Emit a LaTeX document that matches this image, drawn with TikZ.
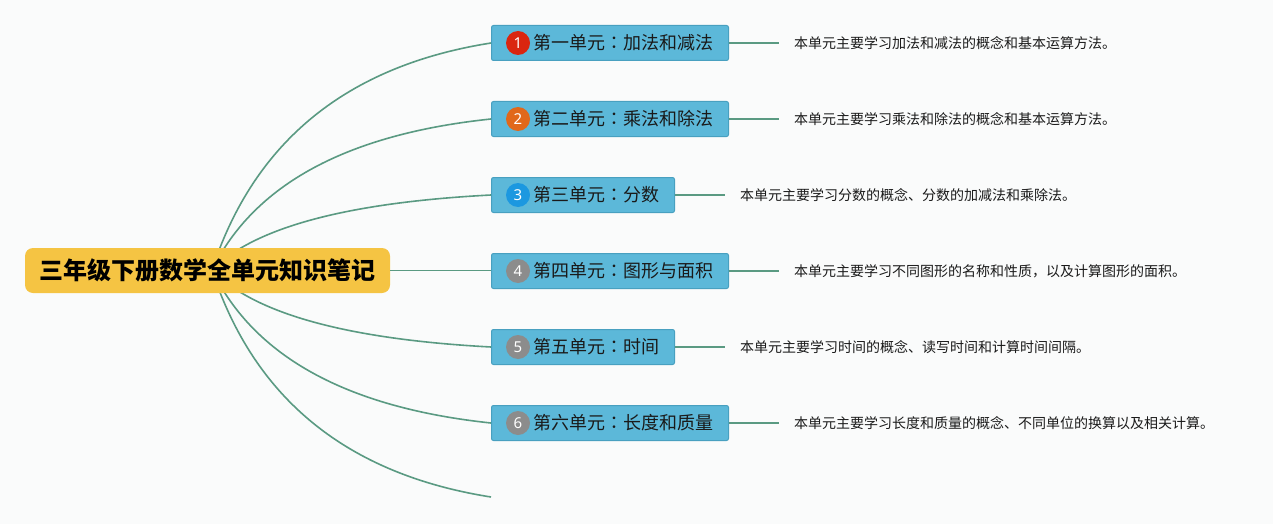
\documentclass[tikz,border=0pt]{standalone}
\usepackage{fontspec}
\newfontfamily\cjk{Noto Sans CJK SC}
\newfontfamily\cjktc{Noto Sans CJK TC}
\newfontfamily\numfont{Noto Sans}
\newcommand{\fwcolon}{{\cjktc ：}}
\usetikzlibrary{calc}
\definecolor{bgc}{RGB}{250,251,251}
\definecolor{linec}{RGB}{90,154,130}
\definecolor{boxfill}{RGB}{92,184,217}
\definecolor{boxdraw}{RGB}{72,160,192}
\definecolor{rootfill}{RGB}{245,196,67}
\definecolor{cred}{RGB}{218,38,16}
\definecolor{corange}{RGB}{225,104,26}
\definecolor{cblue}{RGB}{28,152,224}
\definecolor{cgray}{RGB}{140,140,140}
\definecolor{txt}{RGB}{26,26,26}
\tikzset{
  rootbox/.style={fill=rootfill, rounded corners=8pt, minimum width=365pt, minimum height=45pt, inner sep=0pt, font=\cjk\bfseries\fontsize{24}{28}\selectfont, text=black},
  unitbox/.style={anchor=west, fill=boxfill, draw=boxdraw, line width=1pt, rounded corners=2pt, minimum height=35pt, inner xsep=15pt, inner ysep=0pt, font=\cjk\fontsize{18}{22}\selectfont, text=txt},
  numdot/.style={circle, minimum size=24pt, inner sep=0pt, text=white, font=\numfont\fontsize{15}{18}\selectfont},
  desc/.style={anchor=west, inner xsep=15pt, inner ysep=0pt, font=\cjk\fontsize{14}{17}\selectfont, text=txt},
  conn/.style={draw=linec, line width=1.6pt},
}
\begin{document}
\begin{tikzpicture}[x=1pt,y=-1pt]
\useasboundingbox[fill=bgc] (0,0) rectangle (1273,524);
\coordinate (hub) at (212,270);
\coordinate (end7) at (491,497);
% unit boxes
\node[unitbox] (u1) at (491,43) {\hspace{27pt}第一单元\fwcolon 加法和减法};
\node[unitbox] (u2) at (491,119) {\hspace{27pt}第二单元\fwcolon 乘法和除法};
\node[unitbox] (u3) at (491,195) {\hspace{27pt}第三单元\fwcolon 分数};
\node[unitbox] (u4) at (491,271) {\hspace{27pt}第四单元\fwcolon 图形与面积};
\node[unitbox] (u5) at (491,347) {\hspace{27pt}第五单元\fwcolon 时间};
\node[unitbox] (u6) at (491,423) {\hspace{27pt}第六单元\fwcolon 长度和质量};
% curves (under the root)
\draw[conn] (hub) .. controls (254,141.3) and (347,65.7) .. (u1.west);
\draw[conn] (hub) .. controls (254,184.4) and (347,134.1) .. (u2.west);
\draw[conn] (hub) .. controls (254,227.5) and (347,202.5) .. (u3.west);
\draw[conn] (hub) .. controls (254,313.6) and (347,339.3) .. (u5.west);
\draw[conn] (hub) .. controls (254,356.7) and (347,407.7) .. (u6.west);
\draw[conn] (hub) .. controls (254,398.7) and (347,474.3) .. (end7);
% root
\node[rootbox] (root) at (207.5,270.5) {三年级下册数学全单元知识笔记};
\draw[conn] (root.east) -- (root.east -| u4.west);
% number dots
\node[numdot, fill=cred] (n1) at ($(u1.west)+(27,0)$) {1};
\node[numdot, fill=corange] (n2) at ($(u2.west)+(27,0)$) {2};
\node[numdot, fill=cblue] (n3) at ($(u3.west)+(27,0)$) {3};
\node[numdot, fill=cgray] (n4) at ($(u4.west)+(27,0)$) {4};
\node[numdot, fill=cgray] (n5) at ($(u5.west)+(27,0)$) {5};
\node[numdot, fill=cgray] (n6) at ($(u6.west)+(27,0)$) {6};
% descriptions
\node[desc] (d1) at ($(u1.east)+(50,0)$) {本单元主要学习加法和减法的概念和基本运算方法。};
\node[desc] (d2) at ($(u2.east)+(50,0)$) {本单元主要学习乘法和除法的概念和基本运算方法。};
\node[desc] (d3) at ($(u3.east)+(50,0)$) {本单元主要学习分数的概念、分数的加减法和乘除法。};
\node[desc] (d4) at ($(u4.east)+(50,0)$) {本单元主要学习不同图形的名称和性质，以及计算图形的面积。};
\node[desc] (d5) at ($(u5.east)+(50,0)$) {本单元主要学习时间的概念、读写时间和计算时间间隔。};
\node[desc] (d6) at ($(u6.east)+(50,0)$) {本单元主要学习长度和质量的概念、不同单位的换算以及相关计算。};
\foreach \i in {1,...,6} \draw[conn] (u\i.east) -- (d\i.west);
\end{tikzpicture}
\end{document}
